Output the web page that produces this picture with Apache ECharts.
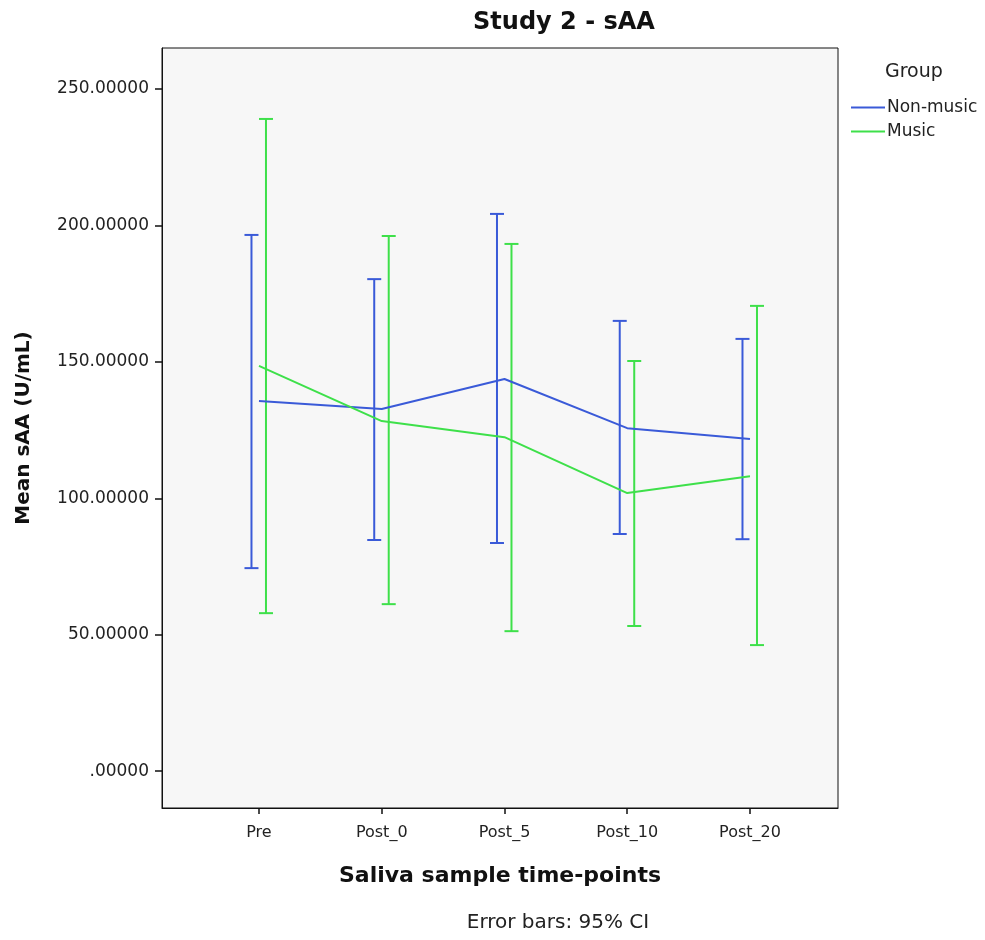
<!DOCTYPE html>
<html>
<head>
<meta charset="utf-8">
<script src="https://cdn.jsdelivr.net/npm/echarts@6/dist/echarts.min.js"></script>
<style>html,body{margin:0;padding:0;background:#fff;}#c{width:985px;height:940px;}</style>
</head>
<body>
<div id="c"></div>
<script>
var categories = ['Pre', 'Post_0', 'Post_5', 'Post_10', 'Post_20'];
var nonMusicMean = [135.6, 132.7, 143.7, 125.7, 121.7];
var nonMusicLow  = [74.4, 84.7, 83.6, 86.9, 85.0];
var nonMusicHigh = [196.5, 180.3, 204.2, 165.0, 158.4];
var musicMean = [148.5, 128.3, 122.4, 101.9, 108.1];
var musicLow  = [57.9, 61.2, 51.3, 53.2, 46.2];
var musicHigh = [239.0, 196.1, 193.2, 150.3, 170.5];
var yTicks = [0, 50, 100, 150, 200, 250];

var BLUE = '#3a5ad8';
var GREEN = '#3ee04a';
var FONT = '"DejaVu Sans", "Liberation Sans", Arial, sans-serif';

function pts(arr) { return arr.map(function (v, i) { return [i, v]; }); }
function bars(lo, hi) { return lo.map(function (v, i) { return [i, v, hi[i]]; }); }

function errRender(color, dx) {
  return function (params, api) {
    var x = api.value(0), lo = api.value(1), hi = api.value(2);
    var p1 = api.coord([x, lo]), p2 = api.coord([x, hi]);
    var cx = p1[0] + dx, hw = 7;
    var st = { stroke: color, lineWidth: 2 };
    return {
      type: 'group',
      children: [
        { type: 'line', shape: { x1: cx, y1: p1[1], x2: cx, y2: p2[1] }, style: st },
        { type: 'line', shape: { x1: cx - hw, y1: p1[1], x2: cx + hw, y2: p1[1] }, style: st },
        { type: 'line', shape: { x1: cx - hw, y1: p2[1], x2: cx + hw, y2: p2[1] }, style: st }
      ]
    };
  };
}

var chart = echarts.init(document.getElementById('c'), null, { renderer: 'canvas' });
chart.setOption({
  animation: false,
  backgroundColor: '#fff',
  textStyle: { fontFamily: FONT },
  title: {
    text: 'Study 2 - sAA', left: 559, top: 6, textAlign: 'center',
    textStyle: { fontFamily: FONT, fontSize: 24, fontWeight: 'bold', color: '#111' }
  },
  grid: {
    left: 162, top: 48, width: 676, height: 760, show: true,
    backgroundColor: '#f7f7f7', borderColor: '#111', borderWidth: 1
  },
  legend: {
    orient: 'vertical', left: 846, top: 94, itemWidth: 34, itemHeight: 2, itemGap: 7,
    icon: 'rect', data: ['Non-music', 'Music'],
    textStyle: { fontFamily: FONT, fontSize: 17, color: '#222', padding: [0, 0, 0, -3] }
  },
  graphic: [
    { type: 'text', x: 885, y: 63, style: { text: 'Group', font: '19px ' + FONT, fill: '#222' } },
    { type: 'text', x: 558, y: 913, style: { text: 'Error bars: 95% CI', font: '20px ' + FONT, fill: '#222', textAlign: 'center' } }
  ],
  xAxis: {
    type: 'value', min: -0.79, max: 4.717,
    name: 'Saliva sample time-points', nameLocation: 'middle', nameGap: 57,
    nameTextStyle: { fontFamily: FONT, fontSize: 22, fontWeight: 'bold', color: '#111' },
    axisLine: { show: true, onZero: false, lineStyle: { color: '#111' } },
    axisTick: { show: true, customValues: [0, 1, 2, 3, 4], length: 6, lineStyle: { color: '#111', width: 1.5 } },
    axisLabel: { customValues: [0, 1, 2, 3, 4], formatter: function (v) { return categories[Math.round(v)]; }, fontSize: 16, color: '#222', margin: 17 },
    splitLine: { show: false }
  },
  yAxis: {
    type: 'value', min: -13.5, max: 265,
    name: 'Mean sAA (U/mL)', nameLocation: 'middle', nameGap: 128, nameRotate: 90,
    nameTextStyle: { fontFamily: FONT, fontSize: 20, fontWeight: 'bold', color: '#111' },
    axisLine: { show: true, onZero: false, lineStyle: { color: '#111' } },
    axisTick: { show: true, customValues: yTicks, length: 7, lineStyle: { color: '#111', width: 1.5 } },
    axisLabel: { customValues: yTicks, formatter: function (v) { return v === 0 ? '.00000' : v.toFixed(5); }, fontSize: 17, color: '#222', margin: 13 },
    splitLine: { show: false }
  },
  series: [
    { name: 'Non-music', type: 'line', data: pts(nonMusicMean), showSymbol: false, symbol: 'none', color: BLUE, lineStyle: { color: BLUE, width: 2 }, z: 3 },
    { name: 'Music', type: 'line', data: pts(musicMean), showSymbol: false, symbol: 'none', color: GREEN, lineStyle: { color: GREEN, width: 2 }, z: 3 },
    { name: 'Non-music', type: 'custom', data: bars(nonMusicLow, nonMusicHigh), renderItem: errRender(BLUE, -7.5), encode: { x: 0, y: [1, 2] }, z: 2 },
    { name: 'Music', type: 'custom', data: bars(musicLow, musicHigh), renderItem: errRender(GREEN, 7), encode: { x: 0, y: [1, 2] }, z: 2 }
  ]
});
</script>
</body>
</html>
